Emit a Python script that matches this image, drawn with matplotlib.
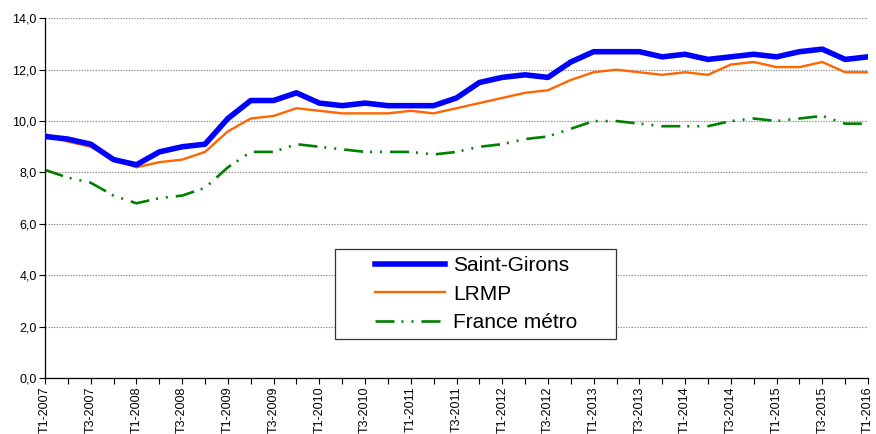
import matplotlib
matplotlib.use("Agg")
import matplotlib.pyplot as plt
from matplotlib.patches import Rectangle

# Trimestres T1-2007 .. T1-2016
quarters = [f"T{q}-{y}" for y in range(2007, 2017) for q in range(1, 5)][:37]

saint_girons = [9.4, 9.3, 9.1, 8.5, 8.3, 8.8, 9.0, 9.1, 10.1, 10.8, 10.8, 11.1,
                10.7, 10.6, 10.7, 10.6, 10.6, 10.6, 10.9, 11.5, 11.7, 11.8, 11.7, 12.3,
                12.7, 12.7, 12.7, 12.5, 12.6, 12.4, 12.5, 12.6, 12.5, 12.7, 12.8, 12.4,
                12.5]
lrmp = [9.5, 9.2, 9.0, 8.5, 8.2, 8.4, 8.5, 8.8, 9.6, 10.1, 10.2, 10.5,
        10.4, 10.3, 10.3, 10.3, 10.4, 10.3, 10.5, 10.7, 10.9, 11.1, 11.2, 11.6,
        11.9, 12.0, 11.9, 11.8, 11.9, 11.8, 12.2, 12.3, 12.1, 12.1, 12.3, 11.9,
        11.9]
france_metro = [8.1, 7.8, 7.6, 7.1, 6.8, 7.0, 7.1, 7.4, 8.2, 8.8, 8.8, 9.1,
                9.0, 8.9, 8.8, 8.8, 8.8, 8.7, 8.8, 9.0, 9.1, 9.3, 9.4, 9.7,
                10.0, 10.0, 9.9, 9.8, 9.8, 9.8, 10.0, 10.1, 10.0, 10.1, 10.2, 9.9,
                9.9]
y_ticks = [0, 2, 4, 6, 8, 10, 12, 14]

plt.rcParams["font.family"] = ["Liberation Sans", "DejaVu Sans"]
plt.rcParams["lines.scale_dashes"] = False

W, H = 876, 434
fig = plt.figure(figsize=(W / 100, H / 100), dpi=100)
ax = fig.add_axes([45 / W, 56 / H, (868 - 45) / W, (378 - 18.3) / H])

x = list(range(len(quarters)))
ax.plot(x, saint_girons, color="#0000FF", lw=4.0, solid_joinstyle="round",
        label="Saint-Girons", zorder=4)
ax.plot(x, lrmp, color="#FF6600", lw=1.7, label="LRMP", zorder=3)
ax.plot(x, france_metro, color="#008000", lw=1.9, dash_capstyle="butt",
        dashes=(13.7, 5.0, 1.4, 5.8, 1.4, 5.8), label="France métro", zorder=2)

ax.set_xlim(0, len(quarters) - 1)
ax.set_ylim(0, 14)
ax.set_yticks(y_ticks)
ax.set_yticklabels([f"{v:.1f}".replace(".", ",") for v in y_ticks], fontsize=9)
ax.set_xticks(x)
ax.set_xticklabels([q if i % 2 == 0 else "" for i, q in enumerate(quarters)],
                   rotation=90, fontsize=9,
                   family=["Liberation Sans Narrow", "Liberation Sans"])
ax.tick_params(axis="both", direction="out", length=4, width=0.8, color="black",
               pad=2)
ax.grid(axis="y", color="#8c8c8c", lw=0.8, linestyle=(0, (1, 1)))
ax.set_axisbelow(True)
for side in ("top", "right"):
    ax.spines[side].set_visible(False)
for side in ("left", "bottom"):
    ax.spines[side].set_color("black")
    ax.spines[side].set_linewidth(0.9)

# cadre de la légende (style Excel)
fig.patches.append(Rectangle((335 / W, 1 - 339 / H), (616 - 335) / W, 90 / H,
                             transform=fig.transFigure, facecolor="white",
                             edgecolor="#333333", lw=0.9, zorder=5))
leg = fig.legend(loc="center left", bbox_to_anchor=(375 / W, 1 - 294 / H),
                 frameon=False, fontsize=15, handlelength=3.37,
                 handletextpad=0.37, labelspacing=0.45, borderpad=0,
                 borderaxespad=0)
leg.set_zorder(6)

fig.savefig("out.png", dpi=100)
